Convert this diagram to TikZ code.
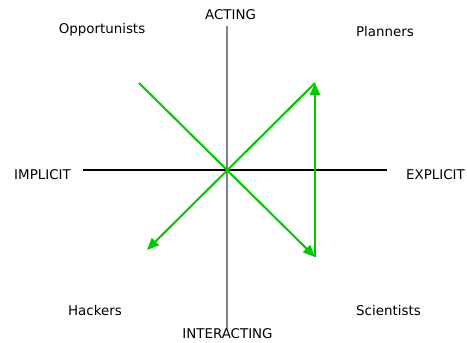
\documentclass[tikz,border=0pt]{standalone}
\usepackage{fontspec}
\setmainfont{DejaVu Sans}
\usetikzlibrary{arrows.meta}
\definecolor{lgreen}{RGB}{0,200,0}
\definecolor{axgray}{RGB}{128,128,128}
\begin{document}
\begin{tikzpicture}[x=1pt,y=-1pt,
  lab/.style={inner sep=0pt,font=\fontsize{13.4}{15}\selectfont},
  path/.style={draw=lgreen,line width=2pt},
  tip/.style={-{Triangle[length=12pt,width=10pt]}}]
\useasboundingbox (0,0) rectangle (467,343);
\coordinate (vt) at (227,26);
\coordinate (vb) at (227,329);
\coordinate (hl) at (83,170);
\coordinate (hr) at (387,170);
\draw[axgray,line width=1.8pt] (vt) -- (vb);
\draw[black,line width=1.2pt] (hl) -- (hr);
\node[lab] (acting) at (230.5,15) {ACTING};
\node[lab] (opp) at (102,29.5) {Opportunists};
\node[lab] (plan) at (385,31.5) {Planners};
\node[lab] (impl) at (42.5,175) {IMPLICIT};
\node[lab] (expl) at (435.5,175) {EXPLICIT};
\node[lab] (hack) at (95,311) {Hackers};
\node[lab] (sci) at (388.5,311) {Scientists};
\node[lab] (inter) at (227.5,334) {INTERACTING};
\coordinate (a) at (139,83);
\coordinate (b) at (315,257);
\coordinate (c) at (315,83);
\coordinate (d) at (147,250);
\draw[path,tip] (a) -- (b);
\draw[path,tip] (c) -- (d);
\draw[path,line width=2.5pt,tip] (b) -- (c);
\end{tikzpicture}
\end{document}
